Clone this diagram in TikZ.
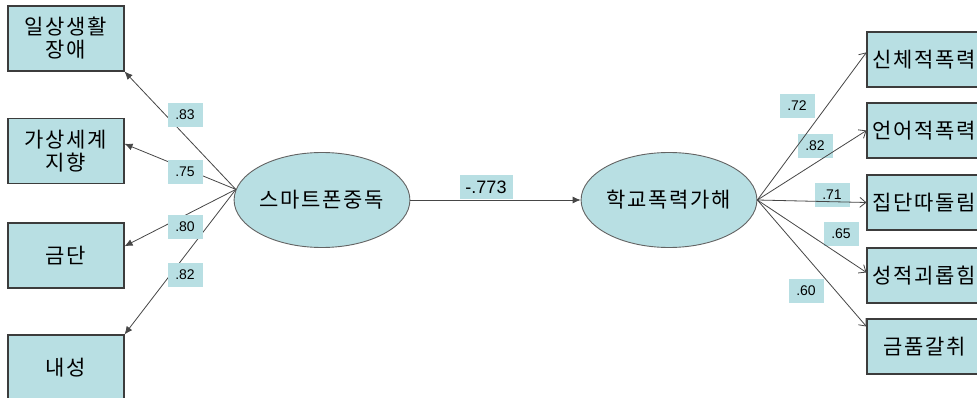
\documentclass[tikz,border=0pt]{standalone}
\usepackage{fontspec}
\setmainfont{Liberation Sans}
\newfontfamily\kr{Noto Sans CJK KR}[LetterSpace=8]
\usetikzlibrary{arrows.meta,shapes.geometric}
\definecolor{boxfill}{RGB}{184,223,227}
\definecolor{edgecol}{RGB}{60,60,60}
\definecolor{linecol}{RGB}{70,70,70}
\begin{document}
\begin{tikzpicture}[x=1pt,y=-1pt,
  obs/.style={draw=edgecol, line width=1.1pt, fill=boxfill, minimum height=65pt, inner sep=0pt,
    text width=116pt, align=center, font=\kr\fontsize{21}{23}\selectfont},
  obsr/.style={obs, minimum height=55pt, text width=115pt},
  latent/.style={ellipse, draw=edgecol!80, line width=0.9pt, fill=boxfill, minimum width=170pt,
    minimum height=95pt, inner sep=0pt, font=\kr\fontsize{21}{23}\selectfont},
  coef/.style={fill=boxfill, inner sep=0pt, minimum width=35pt, minimum height=24pt,
    font=\fontsize{14}{16}\selectfont},
  larrow/.style={draw=linecol, line width=0.8pt, -{Latex[length=8pt,width=7pt]}},
  rarrow/.style={draw=linecol, line width=0.8pt, -{Straight Barb[length=6pt,width=10pt]}}
]
\useasboundingbox (0,0) rectangle (977,398);
\clip (0,0) rectangle (977,398);
\fill[white] (0,0) rectangle (977,398);

% latent variables
\node[latent] (L) at (322,200) {스마트폰중독};
\node[latent] (C) at (669,200) {학교폭력가해};

% left indicators
\node[obs] (B1) at (66,38.5) {일상생활\\장애};
\node[obs] (B2) at (66,151) {가상세계\\지향};
\node[obs] (B3) at (66,255.5) {금단};
\node[obs] (B4) at (66,367.5) {내성};

% right indicators
\node[obsr] (R1) at (924.5,59.5) {신체적폭력};
\node[obsr] (R2) at (924.5,130.5) {언어적폭력};
\node[obsr] (R3) at (924.5,202.5) {집단따돌림};
\node[obsr] (R4) at (924.5,275.5) {성적괴롭힘};
\node[obsr] (R5) at (924.5,346.5) {금품갈취};

% left paths
\draw[larrow] (L.173) -- (B1.south east);
\draw[larrow] (L.173) -- (B2.7);
\draw[larrow] (L.173) -- (B3.9);
\draw[larrow] (L.173) -- (B4.north east);

\node[coef] (l1) at (185,115) {.83};
\node[coef] (l2) at (185,172) {.75};
\node[coef] (l3) at (185,227) {.80};
\node[coef] (l4) at (185,275) {.82};

% structural path
\node[coef, minimum width=53pt, font=\fontsize{18}{20}\selectfont] (m) at (486,187) {-.773};
\draw[larrow] (L.east) -- (C.west);

% right labels (under lines)
\node[coef] (r1) at (797,106) {.72};
\node[coef] (r2) at (815,146) {.82};
\node[coef] (r3) at (832,195) {.71};
\node[coef] (r4) at (841,234) {.65};
\node[coef] (r5) at (806,291) {.60};

% right paths
\draw[rarrow] (C.east) -- (R1.173.5);
\draw[rarrow] (C.east) -- (R2.west);
\draw[rarrow] (C.east) -- (R3.west);
\draw[rarrow] (C.east) -- (R4.177.5);
\draw[rarrow] (C.east) -- (R5.161);
\end{tikzpicture}
\end{document}
